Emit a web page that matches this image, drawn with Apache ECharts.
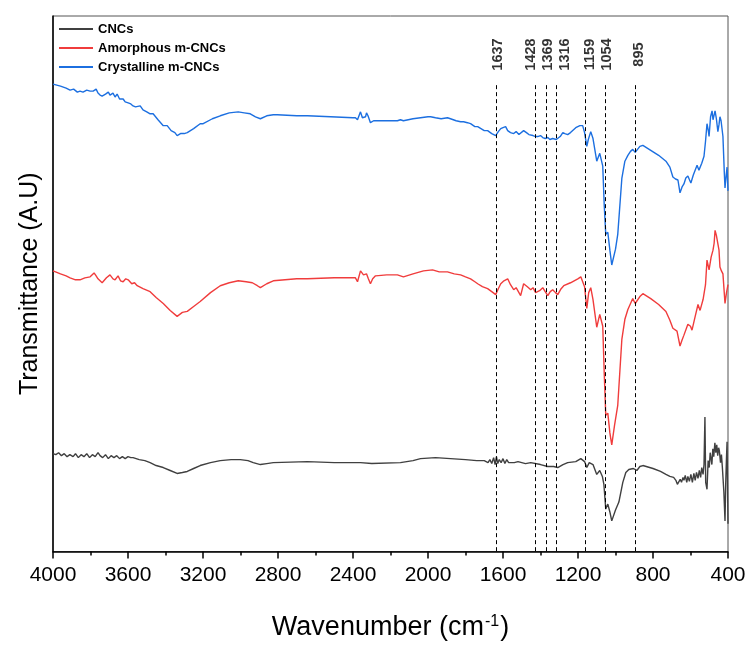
<!DOCTYPE html>
<html><head><meta charset="utf-8">
<script src="https://cdn.jsdelivr.net/npm/echarts@6/dist/echarts.min.js"></script>
<style>html,body{margin:0;padding:0;background:#fff}#c{width:749px;height:646px}</style>
</head><body><div id="c"></div>
<script>
// x: wavenumber (cm-1); y: transmittance in arbitrary units (offset spectra)
const xTicks = [4000,3600,3200,2800,2400,2000,1600,1200,800,400];
const peaks = [1637,1428,1369,1316,1159,1054,895];
const seriesNames = ['CNCs','Amorphous m-CNCs','Crystalline m-CNCs'];

const cncs = [[4000,99],[3985,98],[3970,100],[3955,97],[3940,99],[3925,96],[3910,98],[3893,96],[3880,99],[3865,95],[3850,98],[3835,96],[3820,99],[3805,95],[3790,98],[3775,96],[3760,100],[3749,97],[3735,95],[3720,98],[3705,94],[3690,97],[3675,95],[3660,97],[3645,94],[3630,96],[3615,94],[3600,96],[3585,95],[3573,95],[3540,93],[3510,92],[3482,90],[3450,87],[3412,85],[3375,82],[3338,79],[3310,80],[3284,81],[3250,84],[3215,87],[3160,90],[3108,92],[3050,93],[3001,93],[2960,92],[2932,90],[2894,88],[2860,89],[2825,90],[2643,91],[2500,90],[2360,90],[2300,89],[2147,90],[2080,92],[2040,94],[1960,95],[1880,94],[1800,93],[1740,92],[1700,92],[1690,94],[1680,90],[1670,93],[1660,89],[1650,95],[1642,88],[1635,96],[1628,89],[1620,93],[1610,90],[1600,94],[1590,89],[1580,93],[1570,90],[1560,92],[1540,90],[1520,91],[1500,90],[1480,89],[1452,90],[1400,88],[1361,86],[1330,86],[1308,85],[1280,88],[1255,90],[1212,91],[1185,94],[1175,95],[1165,91],[1153,85],[1140,90],[1132,92],[1120,88],[1100,78],[1084,82],[1070,76],[1062,68],[1052,43],[1041,48],[1030,40],[1020,31],[1000,42],[982,50],[961,70],[945,80],[929,83],[905,84],[886,82],[870,86],[854,87],[800,84],[760,81],[731,78],[710,76],[690,75],[678,72],[670,68],[662,67],[655,73],[648,70],[640,75],[635,72],[628,77],[620,70],[614,76],[606,71],[598,78],[590,70],[582,79],[575,72],[568,80],[560,74],[553,82],[546,75],[540,85],[533,78],[528,88],[523,136],[519,70],[512,63],[506,92],[500,85],[495,100],[491,95],[486,88],[481,104],[476,96],[470,110],[465,100],[460,108],[455,97],[450,105],[446,102],[440,90],[435,98],[430,85],[427,83],[422,60],[416,31],[412,70],[408,95],[405,111],[402,60],[400,28]];

const amorphous = [[4000,284],[3960,281],[3930,279],[3909,277],[3880,275],[3856,275],[3830,277],[3802,278],[3781,282],[3770,279],[3760,276],[3738,272],[3715,277],[3696,280],[3680,276],[3669,275],[3653,279],[3640,274],[3626,273],[3612,276],[3599,275],[3580,271],[3565,272],[3551,269],[3520,266],[3482,263],[3450,257],[3412,251],[3375,244],[3338,238],[3310,242],[3284,243],[3250,248],[3215,253],[3160,262],[3108,269],[3060,272],[3012,274],[2970,273],[2937,272],[2910,269],[2894,267],[2860,271],[2825,274],[2700,276],[2643,276],[2500,277],[2387,277],[2376,273],[2360,284],[2344,280],[2328,281],[2318,276],[2307,271],[2295,276],[2280,279],[2220,280],[2163,280],[2131,278],[2080,281],[2024,284],[1976,285],[1940,283],[1896,283],[1860,281],[1826,280],[1800,278],[1773,276],[1750,273],[1735,271],[1710,268],[1682,266],[1660,263],[1639,260],[1625,266],[1612,271],[1595,274],[1575,276],[1560,270],[1543,265],[1530,267],[1506,259],[1490,271],[1470,268],[1452,265],[1440,267],[1426,262],[1405,264],[1388,267],[1375,263],[1361,259],[1348,263],[1335,265],[1320,262],[1308,260],[1290,266],[1276,269],[1240,272],[1201,276],[1185,278],[1175,278],[1165,268],[1153,246],[1143,262],[1132,267],[1120,255],[1100,227],[1084,240],[1068,228],[1060,180],[1052,138],[1041,140],[1030,120],[1020,108],[1005,128],[988,148],[966,215],[950,235],[934,245],[908,256],[895,251],[886,251],[870,258],[854,261],[812,256],[770,250],[731,243],[710,234],[694,226],[672,223],[656,208],[645,214],[635,219],[614,230],[600,228],[592,224],[575,238],[560,250],[549,244],[533,255],[520,270],[512,295],[501,285],[490,298],[480,305],[474,312],[469,325],[462,320],[454,318],[448,305],[443,288],[435,284],[427,281],[420,262],[416,251],[408,262],[400,270]];

const crystalline = [[4000,473],[3960,471],[3930,469],[3909,467],[3890,468],[3870,465],[3856,466],[3840,465],[3820,467],[3802,466],[3786,466],[3770,468],[3760,464],[3749,462],[3738,461],[3720,463],[3705,465],[3696,462],[3680,464],[3669,460],[3658,463],[3645,458],[3626,458],[3615,455],[3605,456],[3599,454],[3585,453],[3573,451],[3560,450],[3551,449],[3535,451],[3520,447],[3500,445],[3482,443],[3466,443],[3440,437],[3412,431],[3391,431],[3370,426],[3350,424],[3338,421],[3320,423],[3300,423],[3284,424],[3250,428],[3215,433],[3199,433],[3150,438],[3108,441],[3060,444],[3012,445],[2980,444],[2948,443],[2920,440],[2894,438],[2884,438],[2860,441],[2825,442],[2804,442],[2700,441],[2643,441],[2520,440],[2400,439],[2387,439],[2376,437],[2360,445],[2355,444],[2350,439],[2344,438],[2333,440],[2328,444],[2320,441],[2307,434],[2301,433],[2290,436],[2280,437],[2200,436],[2163,436],[2147,437],[2131,436],[2080,438],[2040,439],[2000,440],[1986,440],[1960,439],[1930,438],[1896,439],[1880,438],[1850,436],[1826,435],[1810,435],[1790,434],[1773,433],[1750,430],[1735,430],[1700,426],[1682,426],[1660,423],[1639,421],[1625,425],[1612,428],[1600,429],[1586,430],[1575,426],[1560,424],[1543,423],[1530,425],[1515,422],[1506,421],[1490,426],[1475,424],[1462,422],[1452,423],[1440,421],[1426,420],[1415,420],[1400,421],[1388,419],[1375,418],[1361,419],[1350,417],[1345,419],[1335,418],[1316,417],[1308,417],[1295,420],[1281,424],[1270,423],[1255,422],[1240,424],[1212,429],[1190,431],[1175,431],[1165,424],[1153,410],[1145,417],[1132,425],[1120,418],[1100,395],[1084,403],[1068,390],[1060,350],[1052,321],[1041,323],[1030,305],[1020,290],[1000,306],[988,321],[966,378],[950,395],[934,401],[920,405],[908,407],[895,404],[886,406],[870,410],[854,411],[812,406],[770,401],[731,395],[710,389],[694,379],[680,377],[667,376],[656,363],[645,369],[635,372],[625,378],[614,380],[605,376],[598,373],[585,381],[565,391],[555,386],[540,393],[528,400],[520,415],[512,433],[505,426],[501,420],[493,440],[485,446],[480,437],[475,435],[469,446],[462,438],[454,425],[448,432],[443,440],[437,436],[432,435],[427,420],[420,385],[416,368],[410,380],[405,389],[400,365]];

const peakLineTop = 472;
const peakLabelY = 503;
const colors = ['#404040','#f03c3c','#1c6fe0'];
const FONT = "'Liberation Sans',Arial,sans-serif";
// horizontal nudges (px) of the peak labels, so that crowded labels sit apart as in the figure
const peakLabelNudge = {1637:2, 1428:-4.5, 1369:2, 1316:9, 1159:4, 1054:2, 895:4};

const chart = echarts.init(document.getElementById('c'), null, {renderer:'canvas'});
const lineSeries = [cncs, amorphous, crystalline].map((d,i)=>({
  name: seriesNames[i], type:'line', data:d, showSymbol:false, symbol:'none',
  lineStyle:{color:colors[i], width:1.4}, itemStyle:{color:colors[i]}, z:3, animation:false
}));
lineSeries[0].markLine = {
  silent:true, symbol:['none','none'], animation:false,
  label:{show:false},
  lineStyle:{color:'#000', type:[4,3], width:1},
  data: peaks.map(p=>[{coord:[p,peakLineTop]},{coord:[p,0]}])
};
chart.setOption({
  animation:false,
  grid:{left:53, right:21, top:16, bottom:88, show:true, borderColor:'#555', borderWidth:1},
  legend:{
    data:seriesNames, orient:'vertical', left:53, top:17, itemGap:5,
    itemWidth:34, itemHeight:14,
    itemStyle:{opacity:0},
    lineStyle:{width:2},
    textStyle:{fontFamily:FONT, fontWeight:'bold', fontSize:13, color:'#000', lineHeight:14}
  },
  xAxis:{
    type:'value', inverse:true, min:400, max:4000, interval:400,
    name:'{t|Wavenumber (cm}{s|-1}{t|)}', nameLocation:'middle', nameGap:62,
    nameTextStyle:{fontFamily:FONT, color:'#000',
      rich:{t:{fontFamily:FONT, fontSize:27, color:'#000'},
            s:{fontFamily:FONT, fontSize:16, color:'#000', padding:[0,1,12,1]}}},
    axisLine:{show:true, onZero:false, lineStyle:{color:'#000', width:1.5}},
    axisTick:{show:true, length:7, lineStyle:{color:'#000', width:1.5}},
    minorTick:{show:true, splitNumber:2, length:4, lineStyle:{color:'#000', width:1.5}},
    axisLabel:{fontFamily:FONT, fontSize:21, color:'#000', margin:13,
      formatter:v=>xTicks.includes(v)?String(v):''},
    splitLine:{show:false}
  },
  yAxis:{
    type:'value', min:0, max:542,
    name:'Transmittance (A.U)', nameLocation:'middle', nameGap:10,
    nameTextStyle:{fontFamily:FONT, fontSize:25, color:'#000'},
    axisLine:{show:true, lineStyle:{color:'#000', width:1.5}},
    axisTick:{show:false}, axisLabel:{show:false}, splitLine:{show:false}
  },
  series:[...lineSeries, {
    type:'scatter', symbolSize:0, silent:true, z:5,
    // label is rotated 90°, so its local y offset moves it horizontally on screen
    data:peaks.map(p=>({value:[p,peakLabelY], label:{offset:[0,peakLabelNudge[p]]}})),
    label:{show:true, position:'inside', rotate:90, formatter:p=>String(p.value[0]),
      fontFamily:FONT, fontWeight:'bold', fontSize:14.5, color:'#000'}
  }]
});
</script></body></html>
